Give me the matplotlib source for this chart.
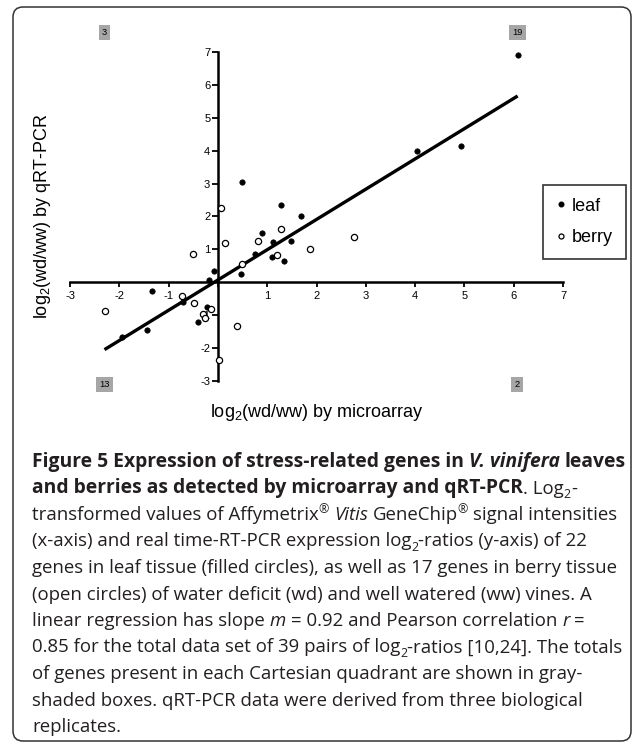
import numpy as np
import matplotlib
matplotlib.use("Agg")
import matplotlib.pyplot as plt
from matplotlib.lines import Line2D
from matplotlib.patches import FancyBboxPatch
from matplotlib.font_manager import FontProperties
from matplotlib.transforms import IdentityTransform

# leaf tissue (filled circles)
leaf_x = [6.08, 4.04, 4.94, 0.49, 1.27, 1.69, 0.89, 1.12, 1.49, 0.76, 1.10,
          1.34, 0.47, -0.08, -0.18, -1.33, -0.70, -0.22, -0.41, -1.43, -1.95]
leaf_y = [6.90, 3.99, 4.13, 3.06, 2.36, 2.03, 1.50, 1.21, 1.25, 0.86, 0.76,
          0.66, 0.24, 0.34, 0.06, -0.26, -0.61, -0.75, -1.22, -1.45, -1.66]
# berry tissue (open circles)
berry_x = [0.07, 1.29, 0.81, 0.14, 2.76, 1.87, -0.51, 1.19, 0.49, -0.73,
           -0.49, -0.14, -2.30, -0.30, -0.26, 0.38, 0.03]
berry_y = [2.27, 1.63, 1.25, 1.18, 1.39, 1.01, 0.85, 0.83, 0.55, -0.42,
           -0.64, -0.81, -0.88, -0.97, -1.07, -1.34, -2.35]

# linear regression
slope = 0.92
intercept = 0.07

ticks = [-3, -2, -1, 0, 1, 2, 3, 4, 5, 6, 7]
tick_labels = ['' if t == 0 else str(t) for t in ticks]

# totals per quadrant: II, I, III, IV
quad_counts = ['3', '19', '13', '2']

caption = [
    [("Figure 5 Expression of stress-related genes in ", 'b'), ("V. vinifera", 'bi'), (" leaves", 'b')],
    [("and berries as detected by microarray and qRT-PCR", 'b'), (". Log", 'r'), ("2", 'sub'), ("-", 'r')],
    [("transformed values of Affymetrix", 'r'), ("\u00ae", 'sup'), (" ", 'r'), ("Vitis", 'i'),
     (" GeneChip", 'r'), ("\u00ae", 'sup'), (" signal intensities", 'r')],
    [("(x-axis) and real time-RT-PCR expression log", 'r'), ("2", 'sub'), ("-ratios (y-axis) of 22", 'r')],
    [("genes in leaf tissue (filled circles), as well as 17 genes in berry tissue", 'r')],
    [("(open circles) of water deficit (wd) and well watered (ww) vines. A", 'r')],
    [("linear regression has slope ", 'r'), ("m", 'i'), (" = 0.92 and Pearson correlation ", 'r'),
     ("r", 'i'), (" =", 'r')],
    [("0.85 for the total data set of 39 pairs of log", 'r'), ("2", 'sub'), ("-ratios [10,24]. The totals", 'r')],
    [("of genes present in each Cartesian quadrant are shown in gray-", 'r')],
    [("shaded boxes. qRT-PCR data were derived from three biological", 'r')],
    [("replicates.", 'r')],
]

plt.rcParams['font.family'] = ['Liberation Sans', 'DejaVu Sans']
plt.rcParams['mathtext.fontset'] = 'custom'
plt.rcParams['mathtext.rm'] = 'Liberation Sans'
plt.rcParams['mathtext.it'] = 'Liberation Sans:italic'
plt.rcParams['mathtext.bf'] = 'Liberation Sans:bold'

W, H = 633, 744
fig = plt.figure(figsize=(W / 100, H / 100), dpi=100)

# axes placed so that x:-3..7 -> 70..563 px, y:7..-3 -> 52..381 px
ax = fig.add_axes([70 / W, 1 - 381 / H, 493 / W, 329 / H])
ax.set_xlim(-3, 7)
ax.set_ylim(-3, 7)
for s in ['top', 'right']:
    ax.spines[s].set_visible(False)
ax.spines['left'].set_position(('data', 0))
ax.spines['bottom'].set_position(('data', 0))
ax.spines['left'].set_linewidth(1.8)
ax.spines['bottom'].set_linewidth(1.8)
ax.set_xticks(ticks)
ax.set_xticklabels(tick_labels)
ax.set_yticks(ticks)
ax.set_yticklabels(tick_labels)
ax.tick_params(axis='x', direction='out', length=3.5, width=1.3, pad=2.5, labelsize=8)
ax.tick_params(axis='y', direction='out', length=4.5, width=1.3, pad=1, labelsize=8)
ax.patch.set_visible(False)

all_x = np.array(leaf_x + berry_x)
xs = np.array([all_x.min(), all_x.max()])
ax.plot(xs, slope * xs + intercept, color='black', lw=2.4, solid_capstyle='butt', zorder=2)

ax.scatter(leaf_x, leaf_y, s=15, color='black', edgecolors='black', linewidths=0.5, zorder=3, clip_on=False)
ax.scatter(berry_x, berry_y, s=20, facecolors='white', edgecolors='black', linewidths=0.9, zorder=3, clip_on=False)

# gray-shaded quadrant totals
quad_pos = [(-2.30, 7.6), (6.07, 7.6), (-2.30, -3.1), (6.07, -3.1)]
for (qx, qy), lab in zip(quad_pos, quad_counts):
    ax.text(qx, qy, lab, fontsize=6.7, ha='center', va='center', clip_on=False,
            bbox=dict(boxstyle='square,pad=0.35', facecolor='#a6a6a6', edgecolor='none'))

ax.text(0.5, -0.097, r'log$_2$(wd/ww) by microarray', transform=ax.transAxes,
        ha='center', va='center', fontsize=13)
ax.text(-0.055, 0.5, r'log$_2$(wd/ww) by qRT-PCR', transform=ax.transAxes,
        ha='center', va='center', rotation=90, fontsize=13)

handles = [Line2D([], [], ls='', marker='o', ms=3.3, mfc='black', mec='black'),
           Line2D([], [], ls='', marker='o', ms=3.6, mfc='white', mec='black', mew=0.9)]
leg = fig.legend(handles, ['leaf', 'berry'], loc='upper left',
                 bbox_to_anchor=(543 / W, 1 - 185 / H), bbox_transform=fig.transFigure,
                 fontsize=13, frameon=True, fancybox=False, borderpad=0.7,
                 handlelength=0.6, handletextpad=0.3, labelspacing=0.8, borderaxespad=0)
leg.get_frame().set_edgecolor('black')
leg.get_frame().set_linewidth(1.2)

# caption block
renderer = fig.canvas.get_renderer()
cap_size = 13.45
bold_size = 13.9
cap_font = 'Open Sans'
styles = {
    'r': (FontProperties(family=cap_font, size=cap_size), 0),
    'b': (FontProperties(family=cap_font, size=bold_size, weight='bold'), 0),
    'bi': (FontProperties(family=cap_font, size=bold_size, weight='bold', style='italic'), 0),
    'i': (FontProperties(family=cap_font, size=cap_size, style='italic'), 0),
    'sub': (FontProperties(family=cap_font, size=cap_size * 0.66), -4.5),
    'sup': (FontProperties(family=cap_font, size=cap_size * 0.66), 7),
}


def seg_width(s, prop):
    w1, _, _ = renderer.get_text_width_height_descent('|' + s + '|', prop, ismath=False)
    w0, _, _ = renderer.get_text_width_height_descent('||', prop, ismath=False)
    return w1 - w0


y0, dy_line = 467, 26.5
for i, line in enumerate(caption):
    x = 32
    yb = y0 + i * dy_line
    for txt, st in line:
        prop, dy = styles[st]
        lead = len(txt) - len(txt.lstrip(' '))
        xt = x + (seg_width(txt[:lead], prop) if lead else 0)
        if txt.strip():
            fig.text(xt / W, 1 - (yb - dy) / H, txt.strip(' '), fontproperties=prop,
                     ha='left', va='baseline', color='#231f20')
        x += seg_width(txt, prop)

# rounded frame around the figure
frame = FancyBboxPatch((13, 3), 618, 734, boxstyle='round,pad=0,rounding_size=10',
                       transform=IdentityTransform(), facecolor='none',
                       edgecolor='#333333', linewidth=1.1)
fig.patches.append(frame)

fig.savefig('out.png', dpi=100)
